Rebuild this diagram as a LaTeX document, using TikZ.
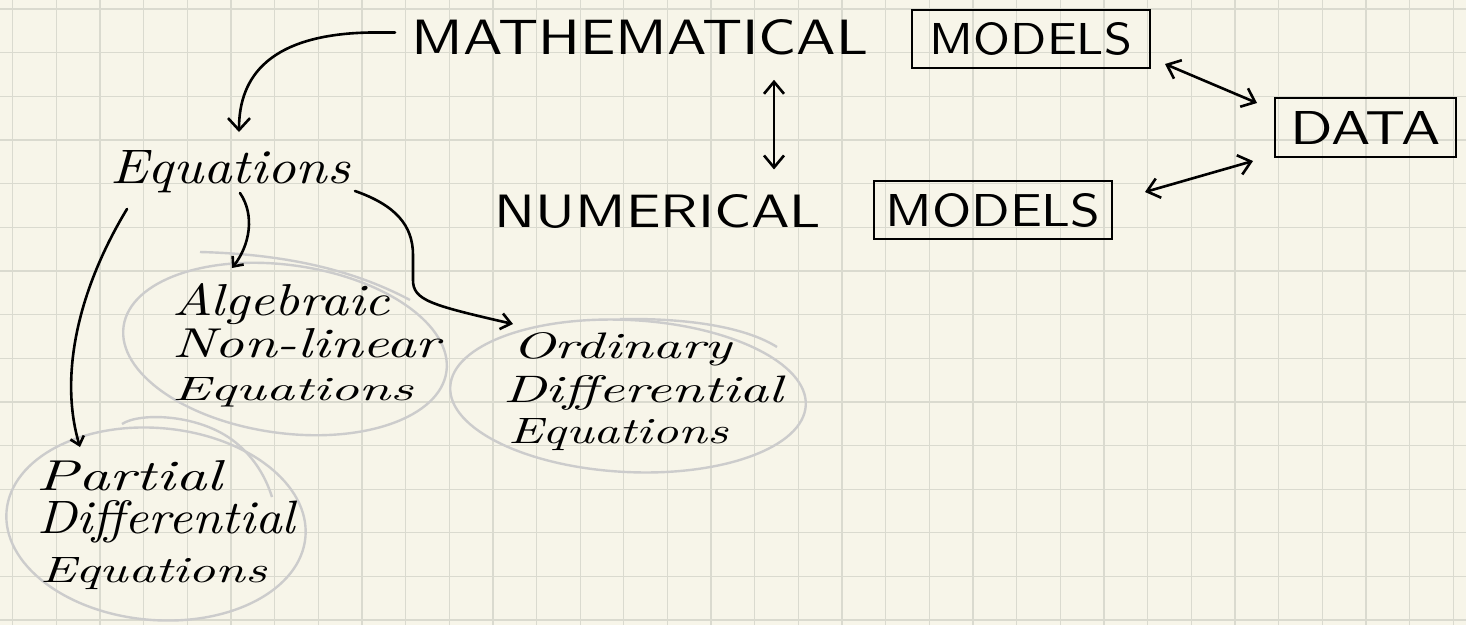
\documentclass[tikz,border=0pt]{standalone}
\usepackage{graphicx}
\usetikzlibrary{arrows.meta,calc}
\definecolor{paper}{RGB}{247,245,233}
\definecolor{gridc}{RGB}{218,218,207}
\definecolor{loopc}{RGB}{204,204,204}
\newcommand{\hwcap}[3]{\resizebox{#1pt}{#2pt}{\sffamily #3}}
\newcommand{\hwcur}[3]{\resizebox{#1pt}{#2pt}{\itshape #3}}
\tikzset{
  gridline/.style={draw=gridc, line width=1.3pt},
  capt/.style={inner sep=0pt, outer sep=0pt, anchor=center},
  curt/.style={inner sep=0pt, outer sep=0pt, anchor=base west},
  boxed/.style={draw, line width=2.8pt, inner sep=0pt, outer sep=0pt},
  ink/.style={draw=black, line width=2.6pt, line cap=round, line join=round},
  loopline/.style={draw=loopc, line width=2.4pt},
  tipbig/.style={-{Straight Barb[length=12pt,width=22pt]}},
  tipmed/.style={-{Straight Barb[length=10pt,width=16pt]}},
  tipsmall/.style={-{Straight Barb[length=8pt,width=14pt]}},
  both/.style={{Straight Barb[length=12pt,width=20pt]}-{Straight Barb[length=12pt,width=20pt]}}
}
\begin{document}
\begin{tikzpicture}[x=1pt,y=-1pt]
\fill[paper] (0,0) rectangle (1466,625);
\useasboundingbox (0,0) rectangle (1466,625);
% grid
\foreach \i in {0,...,33} {\draw[gridline] ({12.7+43.65*\i},0) -- ({12.7+43.65*\i},625);}
\foreach \j in {0,...,14} {\draw[gridline] (0,{9+43.65*\j}) -- (1466,{9+43.65*\j});}
% grey loops
\draw[loopline, rotate around={-8:(285,349)}] (285,349) ellipse [x radius=163pt, y radius=84pt];
\draw[loopline] (200,252) .. controls (280,254) and (350,268) .. (410,300);
\draw[loopline, rotate around={-3:(628,396)}] (628,396) ellipse [x radius=178pt, y radius=76pt];
\draw[loopline] (620,319) .. controls (700,318) and (750,330) .. (777,347);
\draw[loopline, rotate around={-5:(156,524)}] (156,524) ellipse [x radius=150pt, y radius=96pt];
\draw[loopline] (122,424) .. controls (140,412) and (200,414) .. (235,442) .. controls (255,458) and (266,478) .. (272,497);
% nodes
\node[capt] (math) at (640,37.5) {\hwcap{456}{35}{MATHEMATICAL}};
\node[boxed, minimum width=238pt, minimum height=58pt] (mtop) at (1031,39) {\hwcap{202}{32}{MODELS}};
\node[capt] (num) at (658,211.5) {\hwcap{326}{33}{NUMERICAL}};
\node[boxed, minimum width=238pt, minimum height=58pt] (mnum) at (993,210) {\hwcap{215}{33}{MODELS}};
\node[boxed, minimum width=181pt, minimum height=59pt] (data) at (1365.5,127.5) {\hwcap{150}{33}{DATA}};
\node[curt] (eq) at (110,183) {\hwcur{240}{33}{Equations}};
\node[curt] (alg1) at (172,315) {\hwcur{218}{32}{Algebraic}};
\node[curt] (alg2) at (172,357) {\hwcur{268}{29}{Non-linear}};
\node[curt] (alg3) at (172,400) {\hwcur{241}{23}{Equations}};
\node[curt] (ode1) at (512,358) {\hwcur{220}{26}{Ordinary}};
\node[curt] (ode2) at (503,402) {\hwcur{280}{27}{Differential}};
\node[curt] (ode3) at (508,443) {\hwcur{220}{25}{Equations}};
\node[curt] (pde1) at (37,490) {\hwcur{185}{30}{Partial}};
\node[curt] (pde2) at (37,533) {\hwcur{258}{33}{Differential}};
\node[curt] (pde3) at (40,582) {\hwcur{227}{25}{Equations}};
% connectors
\draw[ink, tipbig] ([shift={(-17,-5)}]math.west) -- ++(-25,0) .. controls +(-110,2) and +(0,-47) .. ([shift={(129,-51)}]eq.base west);
\draw[ink, tipsmall] ([shift={(130,10)}]eq.base west) .. controls +(15,22) and +(18,-23) .. ([shift={(60,-47)}]alg1.base west);
\draw[ink, tipsmall] ([shift={(17,26)}]eq.base west) .. controls (75,295) and (60,380) .. ([shift={(43,-43)}]pde1.base west);
\draw[ink, tipmed] ([shift={(245,8)}]eq.base west) .. controls (395,205) and (413,225) .. (413,255) -- (413,280) .. controls (413,300) and (430,305) .. ([shift={(1,-34)}]ode1.base west);
\draw[ink, both] ([shift={(134,24.5)}]math.south) -- ([shift={(116,-25)}]num.north);
\draw[ink, both] ([shift={(15,-4)}]mtop.south east) -- ([shift={(-18,-24.5)}]data.west);
\draw[ink, both] ([shift={(33,-18)}]mnum.east) -- ([shift={(-22,33.5)}]data.west);
\end{tikzpicture}
\end{document}
